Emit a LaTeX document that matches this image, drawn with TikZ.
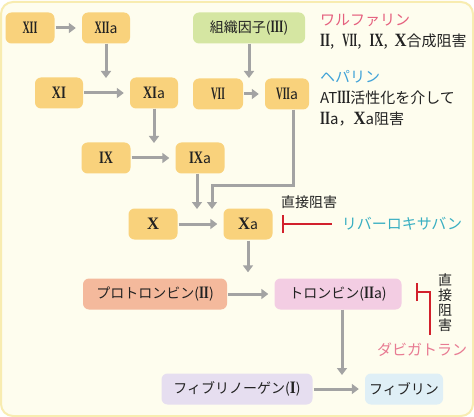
\documentclass[tikz,border=0pt]{standalone}
\usepackage{fontspec}
\setmainfont{Noto Sans CJK JP}
\newfontfamily\rnfont[Scale=1.25]{Liberation Serif}
\newcommand\RN[2]{{\rnfont\bfseries\resizebox{#2pt}{\height}{#1}}}
\usetikzlibrary{arrows.meta}
\definecolor{bgc}{HTML}{FEFDEE}
\definecolor{bord}{HTML}{F8ECB0}
\definecolor{yfill}{HTML}{F9D27C}
\definecolor{gfill}{HTML}{D5E6A2}
\definecolor{sfill}{HTML}{F4B99C}
\definecolor{pfill}{HTML}{F3CDE3}
\definecolor{lfill}{HTML}{E6DEF0}
\definecolor{bfill}{HTML}{DFEFF6}
\definecolor{grayc}{HTML}{A3A3A3}
\definecolor{inhred}{HTML}{D2202C}
\definecolor{warf}{HTML}{E5607E}
\definecolor{hepa}{HTML}{3FA2D8}
\definecolor{riva}{HTML}{38AFC2}
\definecolor{dabi}{HTML}{E87A92}
\definecolor{txt}{HTML}{222222}
\begin{document}
\begin{tikzpicture}[x=1pt,y=-1pt,
  box/.style={rounded corners=6pt, minimum height=31pt, inner sep=0pt, text=txt,
    font=\fontsize{14}{16}\selectfont},
  ybox/.style={box, fill=yfill, minimum width=48pt},
  arr/.style={draw=grayc, line width=3pt, -{Triangle[length=7pt,width=10pt]}, shorten >=6pt, shorten <=1pt},
  arrc/.style={draw=grayc, line width=3pt, -{Triangle[length=7pt,width=10pt]}},
  inh/.style={draw=inhred, line width=2pt, -{Bar[width=18pt]}},
  side/.style={anchor=west, inner sep=0pt, font=\fontsize{15}{17}\selectfont, text=txt},
  lbl/.style={inner sep=0pt, font=\fontsize{14}{16}\selectfont, text=txt}
]
\useasboundingbox (0,0) rectangle (474,417);
\fill[white] (0,0) rectangle (474,417);
\draw[fill=bgc, draw=bord, line width=2pt, rounded corners=12pt] (1,2) rectangle (473,416);

% nodes
\node[ybox, minimum width=49pt] (xii) at (30,28) {\RN{XII}{15}};
\node[ybox] (xiia) at (106,28) {\RN{XII}{15}a};
\node[box, fill=gfill, minimum width=112pt] (tf) at (249,28) {組織因子(\RN{III}{13})};
\node[ybox] (xi) at (59,93) {\RN{XI}{14}};
\node[ybox] (xia) at (154,93) {\RN{XI}{14}a};
\node[ybox, minimum width=50pt] (vii) at (218,94) {\RN{VII}{14}};
\node[ybox, minimum width=44pt] (viia) at (287,94) {\RN{VII}{14}a};
\node[ybox, minimum width=49pt] (ix) at (106,158) {\RN{IX}{14}};
\node[ybox, minimum width=49pt] (ixa) at (200,158) {\RN{IX}{14}a};
\node[ybox, minimum width=49pt] (x) at (153,224) {\RN{X}{12}};
\node[ybox, minimum width=49pt] (xa) at (248,224) {\RN{X}{12}a};
\node[box, fill=sfill, minimum width=144pt] (pro) at (155,294) {プロトロンビン(\RN{II}{10})};
\node[box, fill=pfill, minimum width=127pt] (thr) at (338,294) {トロンビン(\RN{II}{10}a)};
\node[box, fill=lfill, minimum width=151pt] (fbg) at (237,389) {フィブリノーゲン(\RN{I}{6})};
\node[box, fill=bfill, minimum width=78pt] (fib) at (404,389) {フィブリン};

% side texts
\node[side, text=warf] (warf) at (320,20) {ワルファリン};
\node[side] (warf2) at (320,42) {\RN{II}{10},\hspace{8pt}\RN{VII}{15},\hspace{8pt}\RN{IX}{14},\hspace{7pt}\RN{X}{12}合成阻害};
\node[side, text=hepa] (hep) at (320,77) {ヘパリン};
\node[side] (hep2) at (320,98) {AT\RN{III}{13}活性化を介して};
\node[side] (hep3) at (320,119) {\RN{II}{10}a，\RN{X}{12}a阻害};
\node[lbl] (direct1) at (309,202) {直接阻害};
\node[lbl, text=riva, font=\fontsize{15}{17}\selectfont] (riv) at (402,224) {リバーロキサバン};
\node[lbl, align=center, font=\fontsize{14}{15}\selectfont] (direct2) at (445,303) {直\\接\\阻\\害};
\node[lbl, text=dabi, font=\fontsize{15}{17}\selectfont] (dab) at (422,350) {ダビガトラン};

% coordinates
\coordinate (c1) at (106,78);
\coordinate (c2) at (154,143);
\coordinate (c3) at (249,78);
\coordinate (c4) at (197,209);
\coordinate (c5) at (212,209);
\coordinate (bend) at (293,185);
\coordinate (d0) at (430,335);
\coordinate (d1) at (416,292);

% arrows
\draw[arr] (xii) -- (xiia);
\draw[arrc] (xiia) -- (c1);
\draw[arrc] (tf) -- (c3);
\draw[arr] (xi) -- (xia);
\draw[arr] (vii) -- (viia);
\draw[arrc] (xia) -- (c2);
\draw[arr] (ix) -- (ixa);
\draw[arrc] (ixa.south -| c4) -- (c4);
\draw[arrc] (viia.south -| bend) -- (bend) -| (c5);
\draw[arr] (x) -- (xa);
\draw[arr] (xa) -- (xa |- pro.north);
\draw[arr] (pro) -- (thr);
\draw[arrc] (thr.south -| 342,0) -- (342,375);
\draw[arr] (fbg) -- (fib);

% inhibitors
\draw[inh, shorten <=10pt, shorten >=9pt] (riv.west) -- (xa.east);
\draw[inh] (d0) |- (d1);
\end{tikzpicture}
\end{document}
